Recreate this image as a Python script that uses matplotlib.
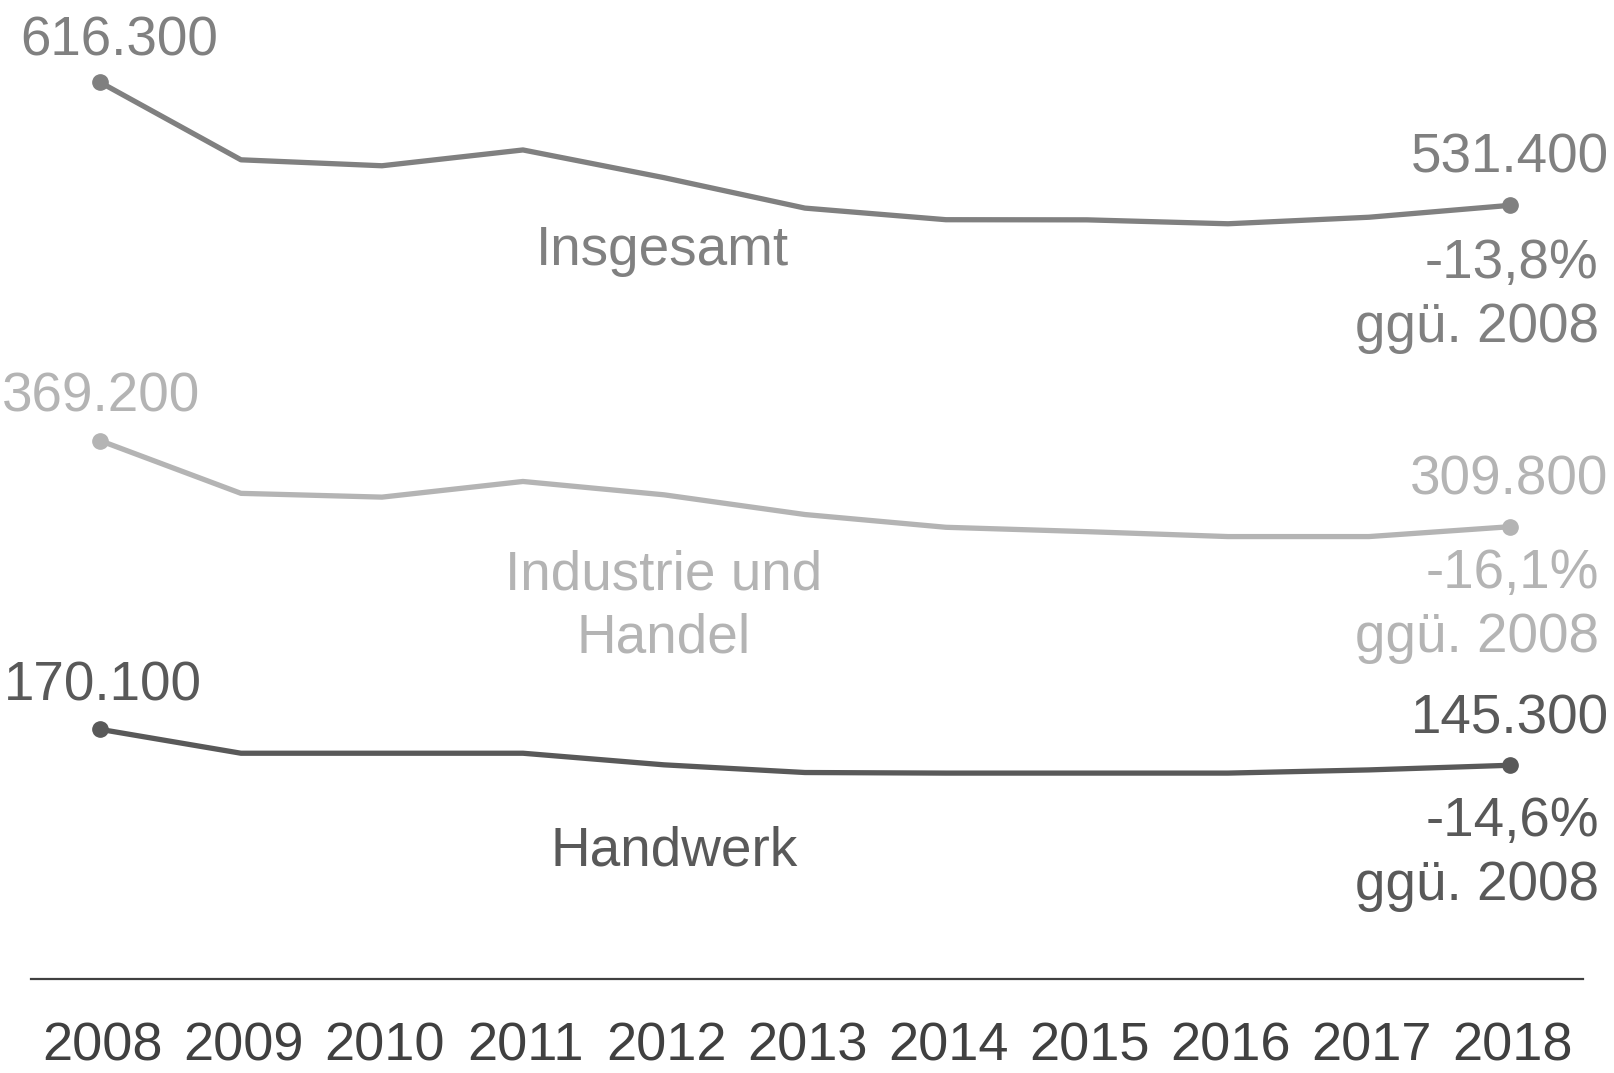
import matplotlib.pyplot as plt
import matplotlib.transforms as mtransforms

plt.rcParams['font.family'] = ['Liberation Sans', 'DejaVu Sans']

# Neue Ausbildungsverträge, in Tausend
years = [2008, 2009, 2010, 2011, 2012, 2013, 2014, 2015, 2016, 2017, 2018]
insgesamt = [616.3, 562.8, 558.7, 569.6, 550.5, 529.5, 521.5, 521.4, 518.7, 523.2, 531.4]
industrie = [369.2, 332.8, 330.2, 341.0, 331.8, 318.2, 309.4, 306.4, 303.0, 303.0, 309.8]
handwerk = [170.1, 153.6, 153.6, 153.6, 145.6, 140.3, 139.9, 139.9, 139.9, 142.1, 145.3]

names = ["Insgesamt", "Industrie und\nHandel", "Handwerk"]
first_labels = ["616.300", "369.200", "170.100"]
last_labels = ["531.400", "309.800", "145.300"]
pct_labels = ["-13,8%\nggü. 2008", "-16,1%\nggü. 2008", "-14,6%\nggü. 2008"]

colors = ["#808080", "#b4b4b4", "#595959"]
series = [insgesamt, industrie, handwerk]

fig = plt.figure(figsize=(16.14, 10.73), dpi=100)
ax = fig.add_axes([0, 0, 1, 1])
ax.set_xlim(-0.709, 10.738)
ax.set_ylim(-66.9, 673.0)
ax.axis("off")

x = list(range(len(years)))
fs = 39.5

# label positions (x index, value) and offsets in points
name_pos = [(3.99, 500.0), (4.0, 254.5), (4.07, 86.0)]
first_off = [(14, 29), (1, 31), (2, 31)]
last_off = [(71, 34), (71, 33), (71, 33)]
pct_off = [65, 57, 64]

for i, vals in enumerate(series):
    c = colors[i]
    ax.plot(x, vals, color=c, lw=3.8, solid_capstyle="round", zorder=3)
    ax.plot([x[0], x[-1]], [vals[0], vals[-1]], "o", color=c, ms=11, zorder=4)

    ax.annotate(first_labels[i], (x[0], vals[0]), xytext=first_off[i],
                textcoords="offset points", ha="center", va="center",
                fontsize=fs, color=c)
    ax.annotate(last_labels[i], (x[-1], vals[-1]), xytext=last_off[i],
                textcoords="offset points", ha="right", va="center",
                fontsize=fs, color=c)
    ax.annotate(pct_labels[i], (x[-1], vals[-1]), xytext=(64, -pct_off[i]),
                textcoords="offset points", ha="right", va="center",
                fontsize=fs, color=c, linespacing=1.3, multialignment="right")
    ax.text(name_pos[i][0], name_pos[i][1], names[i], ha="center", va="center",
            fontsize=fs, color=c, linespacing=1.28)

# baseline
ax.axhline(-2, xmin=31 / 1614, xmax=1583 / 1614, color="#404040", lw=1.6)

trans = mtransforms.blended_transform_factory(ax.transData, ax.transAxes)
for xi, yr in zip(x, years):
    ax.text(xi + 0.02, 0.025, str(yr), transform=trans, ha="center", va="center",
            fontsize=39, color="#404040")

fig.savefig("out.png", dpi=100)
